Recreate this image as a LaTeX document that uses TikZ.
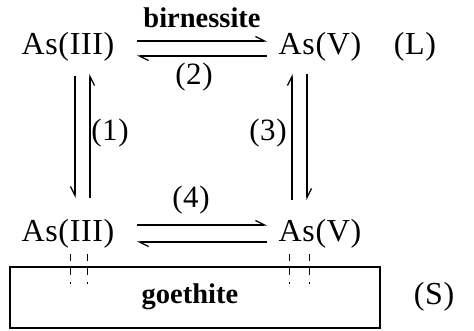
\documentclass[tikz,border=0pt]{standalone}
\usepackage{fontspec}
\setmainfont{Liberation Serif}
\newfontfamily\lblfont[LetterSpace=2]{Liberation Serif}
\usetikzlibrary{arrows.meta}
\begin{document}
\begin{tikzpicture}[x=1pt,y=-1pt,
  lbl/.style={font=\fontsize{32}{36}\selectfont\lblfont, inner sep=0pt},
  num/.style={font=\fontsize{31}{34}\selectfont\lblfont, inner sep=0pt},
  bld/.style={font=\fontsize{28.5}{32}\selectfont\bfseries, inner sep=0pt},
  harp/.style={line width=1.3pt, -{Straight Barb[harpoon,length=9pt,width=9pt,line width=1.2pt]}},
  harps/.style={line width=1.3pt, -{Straight Barb[harpoon,swap,length=9pt,width=9pt,line width=1.2pt]}},
  tickmark/.style={line width=1pt, dash pattern=on 7pt off 7pt},
  boxst/.style={draw, line width=1.4pt, inner sep=0pt}]
\useasboundingbox (0,0) rectangle (474,331);
% labels
\node[lbl] (a3l) at (68,47) {As(III)};
\node[lbl] (a5l) at (320,47) {As(V)};
\node[lbl] (L) at (415,47) {(L)};
\node[bld] (bir) at (202,18) {birnessite};
\node[num] (n2) at (194,77) {(2)};
\node[num] (n1) at (110,133) {(1)};
\node[num] (n3) at (268,133) {(3)};
\node[num] (n4) at (191,200) {(4)};
\node[lbl] (a3s) at (68,234) {As(III)};
\node[lbl] (a5s) at (320,234) {As(V)};
% box
\node[boxst, minimum width=370pt, minimum height=61pt] (goe) at (195,297.5) {};
\node[bld] (goetxt) at (190,297) {goethite};
\node[lbl] (S) at (434,297) {(S)};
% horizontal harpoon end points
\coordinate (t1) at (137,41); \coordinate (t2) at (267,41);
\coordinate (t3) at (267,56); \coordinate (t4) at (137,56);
\coordinate (b1) at (137,225); \coordinate (b2) at (267,225);
\coordinate (b3) at (267,242); \coordinate (b4) at (137,242);
\draw[harp] (t1) -- (t2);
\draw[harp] (t3) -- (t4);
\draw[harp] (b1) -- (b2);
\draw[harp] (b3) -- (b4);
% vertical harpoons
\coordinate (l1) at (75,76); \coordinate (l2) at (75,198);
\coordinate (l3) at (90,198); \coordinate (l4) at (90,74);
\coordinate (r1) at (292,200); \coordinate (r2) at (292,74);
\coordinate (r3) at (307,74); \coordinate (r4) at (307,200);
\draw[harps] (l1) -- (l2);
\draw[harps] (l3) -- (l4);
\draw[harp] (r1) -- (r2);
\draw[harp] (r3) -- (r4);
% attachment ticks
\foreach \x in {70,87,289,309} {
  \draw[tickmark] (\x,254) -- (\x,284);
}
\end{tikzpicture}
\end{document}
